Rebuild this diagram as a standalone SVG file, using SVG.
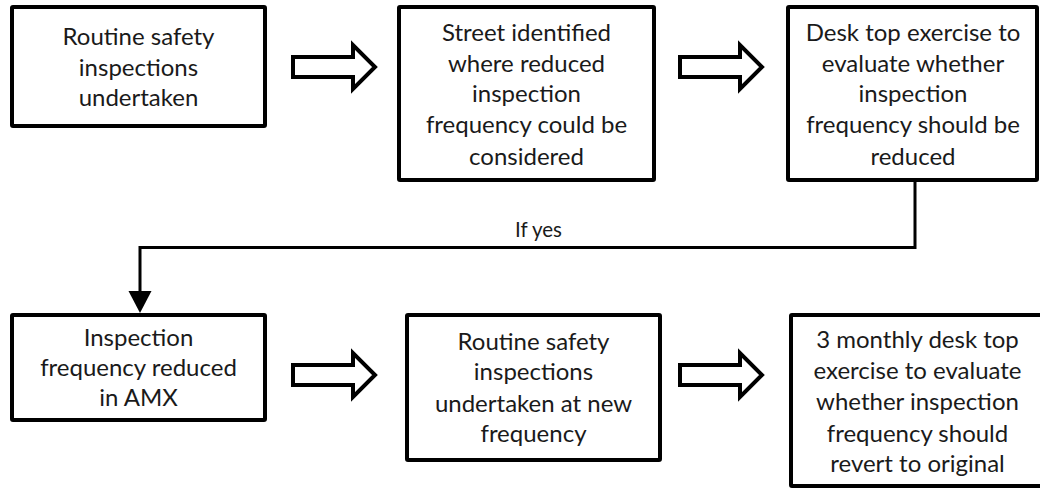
<svg xmlns="http://www.w3.org/2000/svg" width="1040" height="490" viewBox="0 0 1040 490">
  <style>
    .box { fill: #ffffff; stroke: #000000; stroke-width: 4; }
    .lbl { font-family: Lato, "Open Sans", "Liberation Sans", sans-serif; font-size: 24px; fill: #1a1a1a; text-anchor: middle; }
    .small { font-family: Lato, "Open Sans", "Liberation Sans", sans-serif; font-size: 20.5px; fill: #1a1a1a; text-anchor: middle; }
    .blk { fill: #ffffff; stroke: #000000; stroke-width: 4; stroke-miterlimit: 10; }
    .wire { fill: none; stroke: #000000; stroke-width: 3; }
  </style>
  <defs>
    <!-- hollow block arrow, drawn around (0,0) and pointing right -->
    <path id="blockArrow" class="blk" d="M0,-10 H60 V-22 L82,0 L60,22 V10 H0 Z"/>
  </defs>
  <rect width="1040" height="490" fill="#ffffff"/>

  <g id="node-routine">
    <rect class="box" x="12" y="7" width="253" height="119" rx="1"/>
    <text class="lbl" x="138.5" y="45">Routine safety</text>
    <text class="lbl" x="138.5" y="75.5">inspections</text>
    <text class="lbl" x="138.5" y="106">undertaken</text>
  </g>

  <g id="node-street">
    <rect class="box" x="399" y="7" width="255" height="173" rx="1"/>
    <text class="lbl" x="526.5" y="40.5">Street identified</text>
    <text class="lbl" x="526.5" y="71.5">where reduced</text>
    <text class="lbl" x="526.5" y="102">inspection</text>
    <text class="lbl" x="526.5" y="133">frequency could be</text>
    <text class="lbl" x="526.5" y="165">considered</text>
  </g>

  <g id="node-desktop">
    <rect class="box" x="788" y="7" width="249" height="173" rx="1"/>
    <text class="lbl" x="913" y="40.5">Desk top exercise to</text>
    <text class="lbl" x="913" y="71.5">evaluate whether</text>
    <text class="lbl" x="913" y="102">inspection</text>
    <text class="lbl" x="913" y="133">frequency should be</text>
    <text class="lbl" x="913" y="165">reduced</text>
  </g>

  <g id="node-reduced">
    <rect class="box" x="12" y="315" width="253" height="105" rx="1"/>
    <text class="lbl" x="138.5" y="345.5">Inspection</text>
    <text class="lbl" x="138.5" y="376">frequency reduced</text>
    <text class="lbl" x="138.5" y="406">in AMX</text>
  </g>

  <g id="node-newfreq">
    <rect class="box" x="407" y="315" width="253" height="145" rx="1"/>
    <text class="lbl" x="533.5" y="350">Routine safety</text>
    <text class="lbl" x="533.5" y="380">inspections</text>
    <text class="lbl" x="533.5" y="411.5">undertaken at new</text>
    <text class="lbl" x="533.5" y="441.5">frequency</text>
  </g>

  <g id="node-review">
    <rect class="box" x="791" y="315" width="257" height="171" rx="1"/>
    <text class="lbl" x="917.5" y="348">3 monthly desk top</text>
    <text class="lbl" x="917.5" y="378.5">exercise to evaluate</text>
    <text class="lbl" x="917.5" y="410">whether inspection</text>
    <text class="lbl" x="917.5" y="441.5">frequency should</text>
    <text class="lbl" x="917.5" y="472">revert to original</text>
  </g>

  <g id="connectors">
    <use href="#blockArrow" x="293" y="67"/>
    <use href="#blockArrow" x="680" y="67"/>
    <use href="#blockArrow" x="293" y="375"/>
    <use href="#blockArrow" x="680" y="375"/>
    <path class="wire" d="M915,182 V247.5 H140 V292"/>
    <polygon points="128.5,291 151.5,291 140,313" fill="#000000"/>
    <text class="small" x="538.5" y="237">If yes</text>
  </g>
</svg>
